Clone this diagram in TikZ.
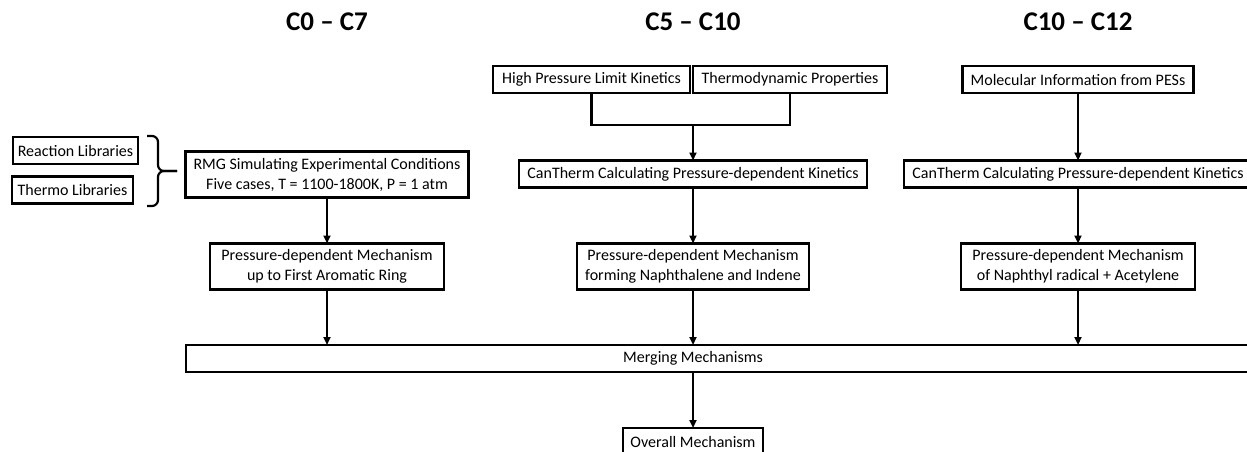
\documentclass[tikz,border=0pt]{standalone}
\usepackage{fontspec}
\setmainfont{Carlito}
\usetikzlibrary{positioning,fit,calc,arrows.meta}

\begin{document}
\begin{tikzpicture}
            [
            x=1pt, y=-1pt,
            box/.style={draw, line width=2.2pt, outer sep=0pt, inner xsep=4pt,
                inner ysep=0pt, minimum height=27pt, align=center,
                font=\fontsize{16}{20}\selectfont},
            tall box/.style={box, minimum height=46pt},
            head/.style={font=\fontsize{27}{30}\selectfont\bfseries},
            flow/.style={-{Triangle[length=8pt,width=7pt]}, line width=2.2pt},
            link/.style={line width=2.2pt},
            brace line/.style={line width=2.2pt, rounded corners=6pt}
            ]
            \useasboundingbox (0,0) rectangle (1247,451);

            % Column titles
            \node (h1) [head] at (327,22) {C0 -- C7};
            \node (h2) [head] at (693,22) {C5 -- C10};
            \node (h3) [head] at (1078,22) {C10 -- C12};

            % C0 - C7
            \node (rxnlib) [box, minimum width=125pt] at (75.5,150.5) {Reaction Libraries};
            \node (thermolib) [box, minimum width=121pt] at (72.5,190) {Thermo Libraries};
            \node (rmg) [tall box, minimum width=283pt] at (327,174.5)
                {RMG Simulating Experimental Conditions\\Five cases, T = 1100-1800K, P = 1 atm};
            \node (pdm1) [tall box, minimum width=234pt, below=46pt of rmg]
                {Pressure-dependent Mechanism\\up to First Aromatic Ring};

            % C5 - C10
            \node (hpl) [box, minimum width=197pt] at (591.5,79.5) {High Pressure Limit Kinetics};
            \node (thermo) [box, minimum width=194pt, right=3pt of hpl] {Thermodynamic Properties};
            \node (can2) [box, minimum width=348pt] at (693,174) {CanTherm Calculating Pressure-dependent Kinetics};
            \node (pdm2) [tall box, minimum width=232pt, below=56pt of can2]
                {Pressure-dependent Mechanism\\forming Naphthalene and Indene};

            % C10 - C12
            \node (mol) [box, minimum width=231pt] at (1078,79.5) {Molecular Information from PESs};
            \node (can3) [box, minimum width=348pt] at (1078,174) {CanTherm Calculating Pressure-dependent Kinetics};
            \node (pdm3) [tall box, minimum width=234pt, below=56pt of can3]
                {Pressure-dependent Mechanism\\of Naphthyl radical + Acetylene};

            % Merging
            \node (merge) [box, minimum width=1074pt, anchor=west] at (186,358.5) {};
            \node (mergetxt) [font=\fontsize{16}{20}\selectfont] at (merge.center -| can2) {Merging Mechanisms};
            \coordinate (mb) at (merge.south -| can2);
            \node (overall) [box, minimum width=140pt, below=56pt of mb] {Overall Mechanism};

            % Brace
            \coordinate (bt) at (147,136);
            \coordinate (bb) at (147,206);
            \coordinate (tip) at (177,171);
            \draw [brace line] (bt) -| (158,171) -- (tip);
            \draw [brace line] (bb) -| (158,171) -- (tip);

            % Connectors
            \coordinate (bar) at ($(hpl.south)+(0,32)$);
            \draw [link] (hpl.south) -- (bar) -| (thermo.south);
            \draw [flow] (can2 |- bar) -- (can2);
            \foreach \i/\j in {rmg/pdm1,can2/pdm2,mol/can3,can3/pdm3}
            \draw [flow] (\i) -- (\j);
            \foreach \i in {pdm1,pdm2,pdm3}
            \draw [flow] (\i) -- (\i |- merge.north);
            \draw [flow] (mb) -- (overall);
        \end{tikzpicture}
\end{document}
